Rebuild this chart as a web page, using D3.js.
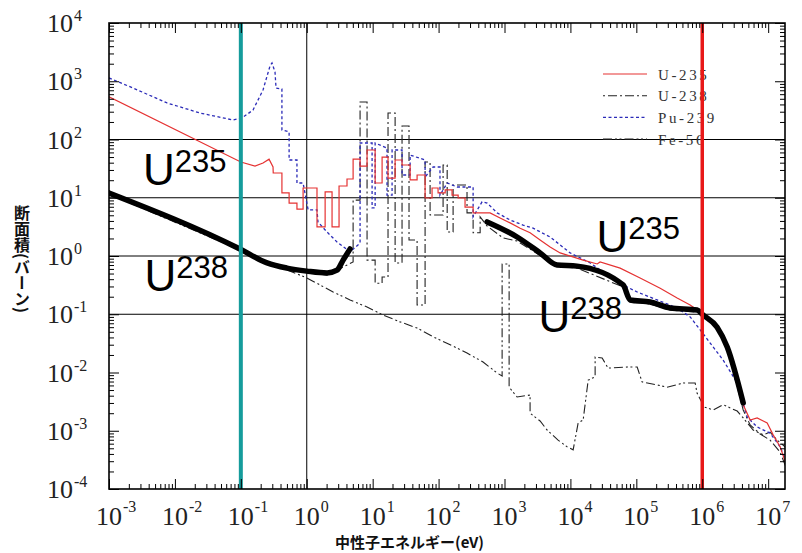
<!DOCTYPE html>
<html><head><meta charset="utf-8">
<script src="https://cdn.jsdelivr.net/npm/d3@7"></script>
<style>body{margin:0;background:#fff}</style>
</head><body>
<svg id="c" width="802" height="553"></svg>
<script>
// ---------- DATA (energy eV, cross section barn) ----------
const u235 = [[1e-3,540],[0.1,41],[0.164,35],[0.217,39.5],[0.268,46],[0.308,33.7],[0.31,26.6],[0.42,26.6],[0.42,12.1],[0.54,12.1],[0.54,8.1],[0.71,8.1],[0.71,6.4],[0.88,6.4],[0.88,14.7],[1.43,14.7],[1.43,3.15],[1.9,3.15],[1.9,12.6],[2.42,12.6],[2.42,3.15],[3.09,3.15],[3.09,15.9],[4.08,15.9],[4.08,21],[5.05,21],[5.05,46],[6.44,46],[6.44,35],[8.22,35],[8.22,66],[10.9,66],[10.9,17.9],[13.9,17.9],[13.9,50],[17.1,50],[17.1,21.8],[21.9,21.8],[21.9,44.5],[27.9,44.5],[27.9,36.5],[37,36.5],[37,20.2],[47.2,20.2],[47.2,24.6],[62.4,24.6],[62.4,9.9],[79.6,9.9],[79.6,14.7],[98.2,14.7],[98.2,12.1],[126,12.1],[126,13.6],[160,13.6],[160,11.1],[198,11.1],[198,9.9],[252,9.9],[252,6.9],[334,6.9],[334,5.5],[604,5.5],[857,4.5],[1216,3.7],[1726,3.0],[2443,2.5],[3467,1.88],[4920,1.43],[6980,1.13],[1.56e4,0.85],[2.55e4,0.73],[2.82e4,0.79],[5.68e4,0.62],[1.14e5,0.42],[2.3e5,0.28],[4.16e5,0.19],[6.55e5,0.144],[9.3e5,0.109],[1.68e6,0.06],[2.39e6,0.0274],[3.39e6,0.0074],[4.18e6,0.0028],[5.33e6,0.00153],[6.8e6,0.00166],[9.66e6,0.00136],[1.19e7,0.00085],[1.52e7,0.00053],[1.88e7,0.00026]];

const u238 = [[1e-3,12.0],[0.097,1.3],[0.25,0.74],[0.56,0.57],[2.03,0.47],[5.05,0.79],[5.05,9.1],[6.44,9.1],[6.44,440],[8.22,440],[8.22,0.85],[10.9,0.85],[10.9,0.34],[13.9,0.34],[13.9,0.435],[17.1,0.435],[17.1,285],[21.9,285],[21.9,0.76],[27.9,0.76],[27.9,171],[35.6,171],[35.6,1.88],[47.2,1.88],[47.2,0.144],[62.4,0.144],[62.4,41],[74.3,41],[74.3,5.06],[117,5.06],[117,36.5],[135,36.5],[135,2.58],[166,2.58],[166,16.6],[270,16.6],[270,5.5],[334,5.5],[334,2.5],[427,2.5],[427,4.7],[545,3.27],[953,2.04],[1553,1.81],[2717,1.22],[6070,0.67],[1.26e4,0.62],[6.3e4,0.294],[8.05e4,0.162],[1.62e5,0.15],[3.26e5,0.118],[8.36e5,0.109],[1.03e6,0.093],[1.68e6,0.058],[2.39e6,0.0264],[4.18e6,0.00227],[5.33e6,0.00126],[7.57e6,0.00088],[1.07e7,0.00069],[1.52e7,0.00043],[1.88e7,0.00023]];

const pu239 = [[1e-3,1140],[0.00231,766],[0.0076,424],[0.024,285],[0.0762,216],[0.104,234],[0.153,320],[0.217,708],[0.277,1830],[0.297,2060],[0.33,1440],[0.342,766],[0.42,736],[0.42,146],[0.54,135],[0.54,44.5],[0.71,44.5],[0.71,17.9],[0.88,17.9],[1.05,6.2],[1.43,6.2],[1.48,3.84],[2.03,2.58],[2.88,1.74],[3.81,1.37],[4.54,1.17],[6.44,1.67],[6.44,87],[9.8,87],[9.8,6.7],[10.9,6.7],[10.9,87],[16.5,71],[16.5,11.1],[19.7,11.1],[19.7,66],[27.9,66],[27.9,24.6],[37,24.6],[37,54],[62.4,44.5],[62.4,22.7],[82.6,33.7],[105,33.7],[105,11.1],[135,17.9],[191,15.3],[334,15.3],[334,4.7],[457,8.5],[545,8.1],[773,5.5],[1216,4.15],[1914,3.4],[2717,3.0],[4920,2.12],[9910,1.13],[2.0e4,0.76],[4.0e4,0.435],[6.3e4,0.318],[1.03e5,0.241],[2.07e5,0.176],[4.16e5,0.128],[6.55e5,0.09],[9.3e5,0.054],[1.32e6,0.032],[2.07e6,0.0164],[3.39e6,0.0066],[4.8e6,0.00172],[6.8e6,0.00116],[1.07e7,0.00091],[1.52e7,0.00053],[1.88e7,0.00029]];

const fe56 = [[1e-3,11.6],[0.1,1.25],[0.277,0.72],[0.56,0.55],[1.0,0.42],[1.43,0.34],[2.51,0.241],[4.54,0.176],[8.22,0.133],[14.4,0.097],[26,0.074],[47.2,0.058],[82.6,0.041],[150,0.030],[270,0.0216],[473,0.0151],[773,0.0098],[920,0.0087],[920,0.73],[1175,0.73],[1175,0.0056],[1553,0.0038],[2443,0.0041],[2443,0.0020],[3467,0.00147],[4430,0.00103],[6500,0.00069],[8910,0.00053],[1.1e4,0.00047],[1.31e4,0.00136],[1.56e4,0.00153],[1.86e4,0.0074],[2.37e4,0.0084],[2.37e4,0.0185],[3.03e4,0.0177],[3.73e4,0.0119],[7.24e4,0.0124],[1.03e5,0.0124],[1.22e5,0.0069],[2.07e5,0.0061],[2.93e5,0.0056],[5.13e5,0.0066],[7.8e5,0.0066],[8.36e5,0.0044],[1.07e6,0.00256],[1.47e6,0.00227],[2.07e6,0.0028],[3.39e6,0.00218],[4.18e6,0.00166],[5.92e6,0.00103],[8.4e6,0.00085],[1.07e7,0.00095],[1.37e7,0.00069],[1.88e7,0.00051]];

// bold annotation curves for U238
const u238BoldLow  = [[1e-3,12.1],[0.097,1.32],[0.25,0.76],[0.5,0.62],[1.0,0.55],[2.03,0.51],[2.88,0.57],[3.56,0.85],[4.54,1.32]];
const u238BoldHigh = [[545,3.84],[1553,2.12],[3467,1.13],[6280,0.70],[1.26e4,0.67],[6.3e4,0.318],[8.05e4,0.176],[1.62e5,0.162],[3.26e5,0.128],[8.36e5,0.118],[1.03e6,0.097],[1.68e6,0.06],[2.39e6,0.0274],[4.18e6,0.003]];

const legendNames = ["U-235","U-238","Pu-239","Fe-56"];
const xTickExps = [-3,-2,-1,0,1,2,3,4,5,6,7];
const yTickExps = [-4,-3,-2,-1,0,1,2,3,4];
const gridYValues = [1e2,1e1,1e0,1e-1];
const gridXValues = [1e0];
const markerEnergies = [0.1, 1e6];
const annotations = [
  {base:"U", sup:"235", x:143, y:185},
  {base:"U", sup:"238", x:144.5, y:291},
  {base:"U", sup:"235", x:596.5, y:252},
  {base:"U", sup:"238", x:538.5, y:332}
];

// ---------- LAYOUT ----------
const L=109, R=785, T=23, B=489;
const x = d3.scaleLog().domain([1e-3, 1.8e7]).range([L, R]);
const y = d3.scaleLog().domain([1e-4, 1e4]).range([B, T]);

const svg = d3.select("#c");
svg.append("rect").attr("width",802).attr("height",553).attr("fill","#fff");
svg.append("defs").append("clipPath").attr("id","clip")
  .append("rect").attr("x",L).attr("y",T).attr("width",R-L).attr("height",B-T);

// grid
const grid = svg.append("g").attr("stroke","#000").attr("stroke-width",1);
grid.selectAll("line.gy").data(gridYValues).join("line")
  .attr("x1",L).attr("x2",R).attr("y1",d=>y(d)).attr("y2",d=>y(d));
grid.selectAll("line.gx").data(gridXValues).join("line")
  .attr("y1",T).attr("y2",B).attr("x1",d=>x(d)).attr("x2",d=>x(d));

const line = d3.line().x(d=>x(d[0])).y(d=>y(d[1]));
const smooth = d3.line().x(d=>x(d[0])).y(d=>y(d[1])).curve(d3.curveMonotoneX);
const plot = svg.append("g").attr("clip-path","url(#clip)").attr("fill","none");

const styles = {
  "U-235": {c:"#e53232", w:1.2, dash:null},
  "U-238": {c:"#222", w:1.1, dash:"2,3,9,3"},
  "Pu-239": {c:"#2b2bb8", w:1.3, dash:"3,2.5"},
  "Fe-56": {c:"#222", w:1.1, dash:"9,3,2,2.5,2,3"}
};
const series = [["Fe-56",fe56],["U-238",u238],["Pu-239",pu239],["U-235",u235]];
series.forEach(([n,d])=>{
  const s=styles[n];
  plot.append("path").datum(d).attr("d",line).attr("stroke",s.c)
    .attr("stroke-width",s.w).attr("stroke-dasharray",s.dash);
});
[u238BoldLow,u238BoldHigh].forEach(d=>{
  plot.append("path").datum(d).attr("d",smooth).attr("stroke","#000")
    .attr("stroke-width",5.5).attr("stroke-linecap","round").attr("stroke-linejoin","round");
});

// legend
const leg = svg.append("g");
legendNames.forEach((n,i)=>{
  const s=styles[n], ly=74+i*21.7;
  leg.append("line").attr("x1",603).attr("x2",647).attr("y1",ly).attr("y2",ly)
    .attr("stroke",s.c).attr("stroke-width",s.w).attr("stroke-dasharray",s.dash);
  leg.append("text").attr("x",658).attr("y",ly+5.5).text(n)
    .attr("font-family","Liberation Serif").attr("font-size",15)
    .attr("letter-spacing",2.6).attr("fill","#333");
});

// marker lines
const markerColors = ["#159c9c","#e81818"];
svg.selectAll("line.mk").data(markerEnergies).join("line")
  .attr("x1",d=>x(d)).attr("x2",d=>x(d)).attr("y1",T).attr("y2",B)
  .attr("stroke",(d,i)=>markerColors[i]).attr("stroke-width",(d,i)=>i?3.5:4);

// ticks via axes
const allX = x.ticks(40), allY = y.ticks(40);
const isMajor = v => Math.abs(Math.log10(v)-Math.round(Math.log10(v)))<1e-9;
const minX = allX.filter(v=>!isMajor(v)), majX = allX.filter(isMajor);
const minY = allY.filter(v=>!isMajor(v)), majY = allY.filter(isMajor);
function ax(gen, vals, size, tr){
  const g = svg.append("g").attr("transform",tr)
    .call(gen.tickValues(vals).tickSize(size).tickFormat(""));
  g.select(".domain").remove();
  g.selectAll("line").attr("stroke","#000").attr("stroke-width",1);
}
ax(d3.axisBottom(x), minX, -5, `translate(0,${B})`);
ax(d3.axisBottom(x), majX, -10, `translate(0,${B})`);
ax(d3.axisTop(x), minX, -5, `translate(0,${T})`);
ax(d3.axisTop(x), majX, -10, `translate(0,${T})`);
ax(d3.axisLeft(y), minY, -5, `translate(${L},0)`);
ax(d3.axisLeft(y), majY, -10, `translate(${L},0)`);
ax(d3.axisRight(y), minY, -5, `translate(${R},0)`);
ax(d3.axisRight(y), majY, -10, `translate(${R},0)`);
svg.append("rect").attr("x",L).attr("y",T).attr("width",R-L).attr("height",B-T)
  .attr("fill","none").attr("stroke","#000").attr("stroke-width",1.6);

// tick labels
const tf = "Liberation Serif";
xTickExps.forEach(e=>{
  const cx = x(10**e);
  const t = svg.append("text").attr("x",cx).attr("y",525).attr("text-anchor","middle")
    .attr("font-family",tf).attr("font-size",26).attr("fill","#222").text("10");
  const w = t.node().getComputedTextLength();
  svg.append("text").attr("x",cx+w/2+1).attr("y",512).attr("font-family",tf)
    .attr("font-size",16).attr("fill","#222").text(String(e));
});
yTickExps.forEach(e=>{
  const cy = y(10**e);
  const t = svg.append("text").attr("x",47).attr("y",cy+9).attr("font-family",tf)
    .attr("font-size",26).attr("fill","#222").text("10");
  const w = t.node().getComputedTextLength();
  svg.append("text").attr("x",47+w+1).attr("y",cy-2).attr("font-family",tf)
    .attr("font-size",16).attr("fill","#222").text(String(e));
});

// axis titles
svg.append("text").attr("x",22).attr("y",205)
  .style("writing-mode","vertical-rl").attr("font-family","Noto Sans CJK JP")
  .attr("font-weight","bold").attr("font-size",16).attr("fill","#111").text("断面積(バーン)");
svg.append("text").attr("x",335).attr("y",548).attr("font-family","Noto Sans CJK JP")
  .attr("font-weight","bold").attr("font-size",15).attr("fill","#111").text("中性子エネルギー(eV)");

// big annotations
annotations.forEach(a=>{
  const t = svg.append("text").attr("x",a.x).attr("y",a.y)
    .attr("font-family","Liberation Sans").attr("font-size",44).attr("fill","#000");
  t.append("tspan").text(a.base);
  t.append("tspan").attr("font-size",31).attr("dy",-13).text(a.sup);
});
</script>
</body></html>
